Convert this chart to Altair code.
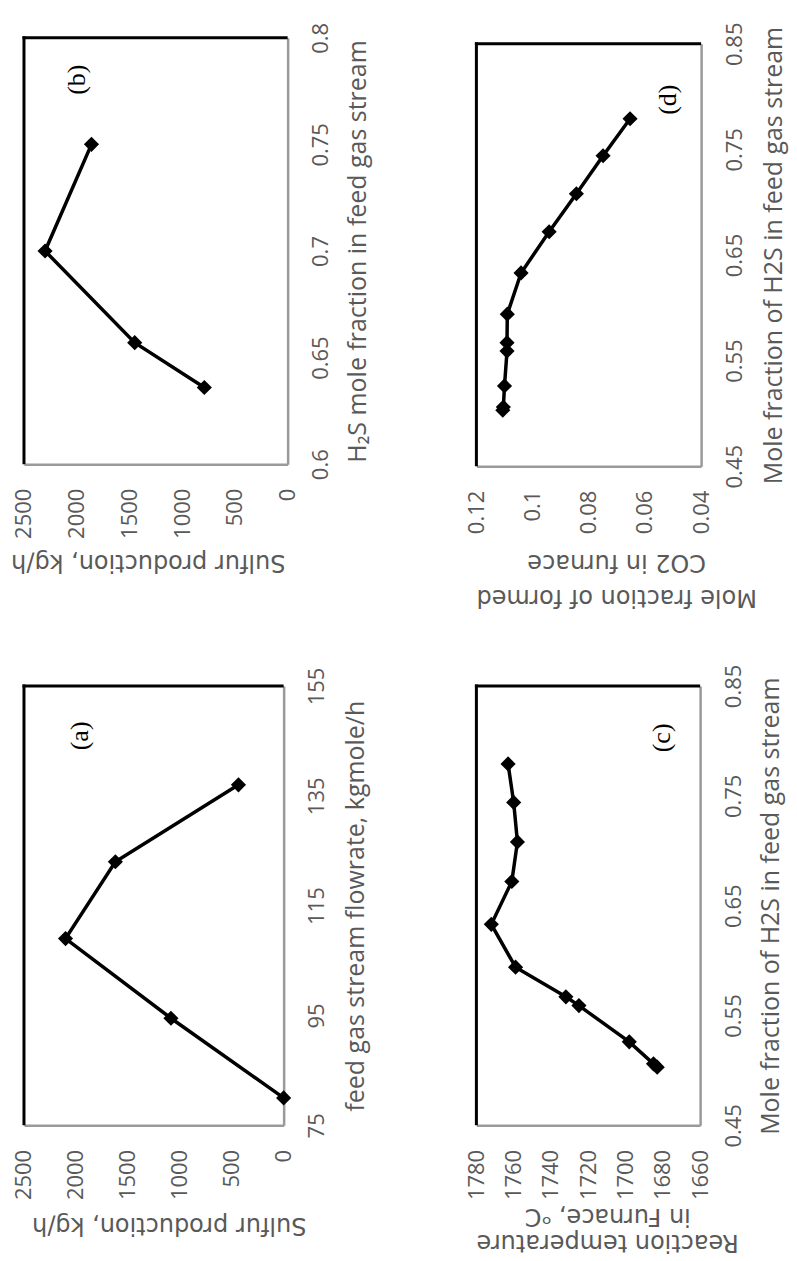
import altair as alt
import pandas as pd

# ---------------- data ----------------
# (a) sulfur production vs feed gas flowrate
a_flow = [80, 94.5, 109, 123, 137]
a_sulfur = [0, 1085, 2100, 1620, 435]
# (b) sulfur production vs H2S mole fraction
b_h2s = [0.636, 0.657, 0.700, 0.750]
b_sulfur = [790, 1450, 2300, 1860]
# (c),(d) vs mole fraction of H2S
cd_h2s = [0.503, 0.506, 0.526, 0.559, 0.567, 0.594, 0.633, 0.672, 0.708, 0.744, 0.779]
c_temp = [1683, 1685, 1698, 1725, 1732, 1759, 1772, 1761, 1758, 1760, 1763]
d_co2 = [0.1106, 0.1104, 0.1100, 0.1091, 0.1091, 0.1090, 0.1041, 0.0941, 0.0844, 0.0749, 0.0653]

# axis tick values
sulfur_ticks = [0, 500, 1000, 1500, 2000, 2500]
flow_ticks = [75, 95, 115, 135, 155]
b_h2s_ticks = [0.6, 0.65, 0.7, 0.75, 0.8]
cd_h2s_ticks = [0.45, 0.55, 0.65, 0.75, 0.85]
temp_ticks = [1660, 1680, 1700, 1720, 1740, 1760, 1780]
co2_ticks = [0.04, 0.06, 0.08, 0.1, 0.12]

GRAY_TXT = "#595959"
GRAY_AX = "#9a9a9a"
ONE = pd.DataFrame({"k": [0]})


def panel(xs, ys, xdom, ydom, xvals, yvals, xfmt, yfmt, W, H, top,
          btitle, btx, bty, blh, rtitle, rtx, tag, tagx, tagy, anchors=()):
    df = pd.DataFrame({"xv": xs, "yv": ys, "i": list(range(len(xs)))})
    x = alt.X("yv:Q",
              scale=alt.Scale(domain=ydom, reverse=True, nice=False, zero=False),
              axis=alt.Axis(orient="bottom", values=yvals, format=yfmt,
                            labelAngle=270, labelAlign="right", labelBaseline="middle",
                            labelPadding=24, ticks=False, tickSize=0, grid=False,
                            domainColor=GRAY_AX, domainWidth=2.5,
                            labelFlush=False, labelOverlap=False,
                            labelFont="Open Sans", labelFontSize=22, labelColor=GRAY_TXT,
                            title=btitle, titleAngle=180, titleAlign="center",
                            titleBaseline="bottom", titleX=btx, titleY=bty,
                            titleFont="DejaVu Sans", titleFontSize=24,
                            titleFontWeight="normal", titleColor=GRAY_TXT,
                            titleLineHeight=blh))
    y = alt.Y("xv:Q",
              scale=alt.Scale(domain=xdom, range=[H, top], nice=False, zero=False),
              axis=alt.Axis(orient="right", values=xvals, format=xfmt,
                            labelAngle=270, labelAlign="center", labelBaseline="top",
                            labelPadding=23, ticks=False, tickSize=0, grid=False,
                            domainColor=GRAY_AX, domainWidth=2.5,
                            labelFlush=False, labelOverlap=False,
                            labelFont="Open Sans", labelFontSize=22, labelColor=GRAY_TXT,
                            title=rtitle, titleAngle=270, titleAlign="center",
                            titleBaseline="top", titleX=rtx, titleY=top + (H - top) / 2,
                            titleFont="Open Sans", titleFontSize=25,
                            titleFontWeight="normal", titleColor=GRAY_TXT))
    base = alt.Chart(df)
    line = base.mark_line(color="black", strokeWidth=3.5).encode(
        x=x, y=y, order=alt.Order("i:Q"))
    pts = base.mark_point(shape="diamond", filled=True, size=230, color="black",
                          opacity=1).encode(x=x, y=y)
    left = alt.Chart(ONE).mark_rule(color="black", strokeWidth=3).encode(
        x=alt.value(0), y=alt.value(top - 1.5), y2=alt.value(H))
    topr = alt.Chart(ONE).mark_rule(color="black", strokeWidth=3).encode(
        x=alt.value(-1.5), x2=alt.value(W), y=alt.value(top))
    lab = alt.Chart(ONE).mark_text(text=tag, angle=270, font="Liberation Serif",
                                   fontSize=26, align="center", baseline="middle",
                                   color="black").encode(
        x=alt.value(tagx), y=alt.value(tagy))
    layers = [left, topr, line, pts, lab]
    for (ax, ay) in anchors:
        layers.append(alt.Chart(ONE).mark_point(shape="square", size=1, filled=True,
                                                color="white", opacity=1).encode(
            x=alt.value(ax), y=alt.value(ay)))
    return alt.layer(*layers).properties(width=W, height=H)


pb = panel(b_h2s, b_sulfur, [0.6, 0.8], [0, 2500], b_h2s_ticks, sulfur_ticks,
           ".2~f", "d", 264, 427, 0,
           "Sulfur production, kg/h", 124, 85, 30,
           "H\u2082S mole fraction in feed gas stream", 58,
           "(b)", 53, 42, anchors=[(-15, -28)])

pd_ = panel(cd_h2s, d_co2, [0.45, 0.85], [0.04, 0.12], cd_h2s_ticks, co2_ticks,
            ".2~f", ".2~f", 225, 429, 6,
            ["Mole fraction of formed", "CO2 in furnace"], 140, 118, 35,
            "Mole fraction of H2S in feed gas stream", 60,
            "(d)", 192, 62, anchors=[(312, 0)])

pa = panel(a_flow, a_sulfur, [75, 155], [0, 2500], flow_ticks, sulfur_ticks,
           "d", "d", 260, 440, 0,
           "Sulfur  production, kg/h", 145, 87, 30,
           "feed gas stream flowrate, kgmole/h", 60,
           "(a)", 56, 50)

pc = panel(cd_h2s, c_temp, [0.45, 0.85], [1660, 1780], cd_h2s_ticks, temp_ticks,
           ".2~f", "d", 224, 440, 0,
           ["Reaction temperature", "in Furnace, \u1d52C"], 131, 104, 26,
           "Mole fraction of H2S  in feed gas stream", 58,
           "(c)", 186, 52, anchors=[(0, 567)])

chart = alt.concat(pb, pd_, pa, pc, columns=2,
                   spacing={"row": 220, "column": 189},
                   bounds="flush").properties(
    padding=0, background="white"
).configure_view(stroke=None)

chart.save("out.html", embed_options={"renderer": "svg", "actions": False})
